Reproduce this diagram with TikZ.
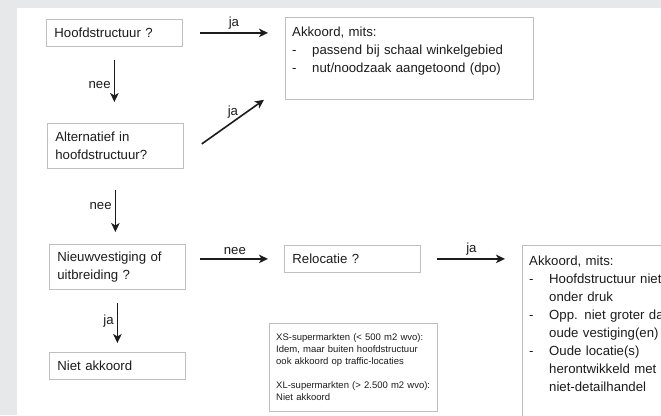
\documentclass[tikz,border=0pt]{standalone}
\usepackage{fontspec}
\setmainfont{Liberation Sans}
\usetikzlibrary{arrows.meta}
\definecolor{achtergrond}{HTML}{E7E8EA}
\definecolor{inkt}{HTML}{1C1C1C}
\tikzset{
	vak/.style={draw=black!25, line width=0.8pt, anchor=north west, inner sep=0pt},
	vraag/.style={vak, text=inkt, font=\fontsize{13.2}{18}\selectfont, align=left, text width=120pt, minimum width=136pt, inner xsep=8pt},
	tekst/.style={text=inkt, font=\fontsize{13.2}{18}\selectfont, align=left, text width=240pt, anchor=base west, inner sep=0pt},
	klein/.style={text=inkt, font=\fontsize{9.5}{12}\selectfont, align=left, text width=160pt, anchor=base west, inner sep=0pt},
	pijl/.style={draw=inkt, line width=1.6pt, -{Stealth[length=9pt,width=8.5pt,inset=2.5pt]}},
	lbl/.style={text=inkt, font=\fontsize{13.2}{16}\selectfont, inner sep=3pt}
}
\newcommand{\streep}{\makebox[20pt][l]{-}}
\newcommand{\inspring}{\hspace*{20pt}}

\begin{document}
\begin{tikzpicture}[x=1pt, y=-1pt]
		%%%%% ACHTERGROND %%%%%
		\useasboundingbox (0, 0) rectangle (661, 415);
		\clip (0, 0) rectangle (661, 415);
		\fill[achtergrond] (0, 0) rectangle (661, 415);
		\fill[white] (17, 8) rectangle (661, 415);
		
		%%%%% VAKKEN %%%%%
		\node[vraag, minimum height=27pt] (hfd) at (46, 19) {Hoofdstructuur ?};
		\node[vraag, minimum height=45pt] (alt) at (47, 123) {Alternatief in\\hoofdstructuur?};
		\node[vraag, minimum height=45pt] (nieuw) at (49, 244) {Nieuwvestiging of\\uitbreiding ?};
		\node[vraag, minimum height=27pt] (niet) at (49, 352) {Niet akkoord};
		\node[vraag, minimum height=27pt] (reloc) at (284, 245) {Relocatie ?};
		
		\node[vak, minimum width=248pt, minimum height=82pt] (akk1) at (285, 17) {};
		\node[tekst] (akk1tekst) at (292, 36.5) {Akkoord, mits:\\
			\streep passend bij schaal winkelgebied\\
			\streep nut/noodzaak aangetoond (dpo)};
		
		\node[vak, minimum width=200pt, minimum height=200pt] (akk2) at (522, 245) {};
		\node[tekst] (akk2tekst) at (529, 265.5) {Akkoord, mits:\\
			\streep Hoofdstructuur niet\\
			\inspring onder druk\\
			\streep Opp. niet groter dan\\
			\inspring oude vestiging(en)\\
			\streep Oude locatie(s)\\
			\inspring herontwikkeld met\\
			\inspring niet-detailhandel};
		
		\node[vak, minimum width=168pt, minimum height=88pt] (xsxl) at (269, 323) {};
		\node[klein] (xsxltekst) at (276, 340.5) {XS-supermarkten (< 500 m2 wvo):\\
			Idem, maar buiten hoofdstructuur\\
			ook akkoord op traffic-locaties\\[12pt]
			XL-supermarkten (> 2.500 m2 wvo):\\
			Niet akkoord};
		
		%%%%% PIJLEN %%%%%
		\draw[pijl, shorten <=17pt, shorten >=17pt] (hfd.east) -- (hfd.east -| akk1.west) node[lbl, midway, above] {ja};
		\draw[pijl, shorten <=13pt, shorten >=21pt] (hfd.south) -- (hfd.south |- alt.north) node[lbl, midway, left] {nee};
		\draw[pijl] ([xshift=18pt, yshift=2pt]alt.east) -- ([xshift=-21pt]akk1.south west) node[lbl, midway, above] {ja};
		\draw[pijl, shorten <=21pt, shorten >=12pt] (alt.south) -- (alt.south |- nieuw.north) node[lbl, midway, left] {nee};
		\draw[pijl, shorten <=13pt, shorten >=9pt] (nieuw.south) -- (nieuw.south |- niet.north) node[lbl, midway, left] {ja};
		\draw[pijl, shorten <=14pt, shorten >=16pt] (reloc.west -| nieuw.east) -- (reloc.west) node[lbl, midway, above] {nee};
		\draw[pijl, shorten <=16pt, shorten >=17pt] (reloc.east) -- (reloc.east -| akk2.west) node[lbl, midway, above] {ja};
		
\end{tikzpicture}
\end{document}
